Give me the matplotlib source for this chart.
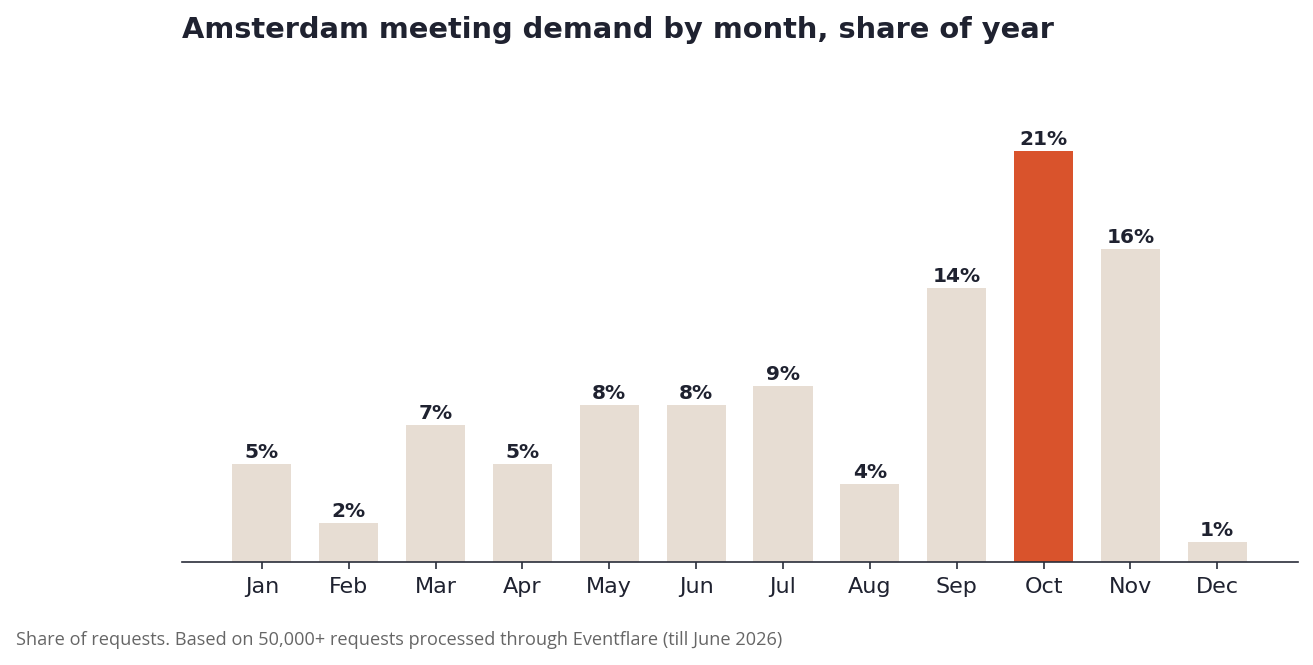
import matplotlib
matplotlib.use("Agg")
import matplotlib.pyplot as plt

plt.rcParams["font.family"] = "DejaVu Sans"

months = ["Jan", "Feb", "Mar", "Apr", "May", "Jun", "Jul", "Aug", "Sep", "Oct", "Nov", "Dec"]
share = [5, 2, 7, 5, 8, 8, 9, 4, 14, 21, 16, 1]
highlight = "Oct"

TEXT = "#1f2230"
BASE = "#e7ddd3"
ACCENT = "#d9532c"

fig = plt.figure(figsize=(13.13, 6.65), dpi=100)
ax = fig.add_axes([182 / 1313, 1 - 562 / 665, (1298 - 182) / 1313, (562 - 60) / 665])

colors = [ACCENT if m == highlight else BASE for m in months]
x = list(range(len(months)))
bars = ax.bar(x, share, width=0.68, color=colors)

for xi, v in zip(x, share):
    ax.text(xi, v + 0.1, f"{v}%", ha="center", va="bottom",
            fontsize=14.5, fontweight="bold", color=TEXT)

ax.set_xlim(-0.92, 11.93)
ax.set_ylim(0, (562 - 60) / 19.57)
ax.set_xticks(x)
ax.set_xticklabels(months, fontsize=16, color=TEXT)
ax.set_yticks([])
for s in ["top", "right", "left"]:
    ax.spines[s].set_visible(False)
ax.spines["bottom"].set_color("#2a2d3a")
ax.spines["bottom"].set_linewidth(1.2)
ax.tick_params(axis="x", length=5, width=1.2, color="#2a2d3a", pad=6)

fig.text(182 / 1313, 1 - 30 / 665, "Amsterdam meeting demand by month, share of year",
         fontsize=20.8, fontweight="bold", color=TEXT, ha="left", va="center")
fig.text(16 / 1313, 1 - 640 / 665,
         "Share of requests. Based on 50,000+ requests processed through Eventflare (till June 2026)",
         fontsize=13.1, color="#666666", ha="left", va="center", family="Open Sans")

fig.savefig("out.png", dpi=100)
